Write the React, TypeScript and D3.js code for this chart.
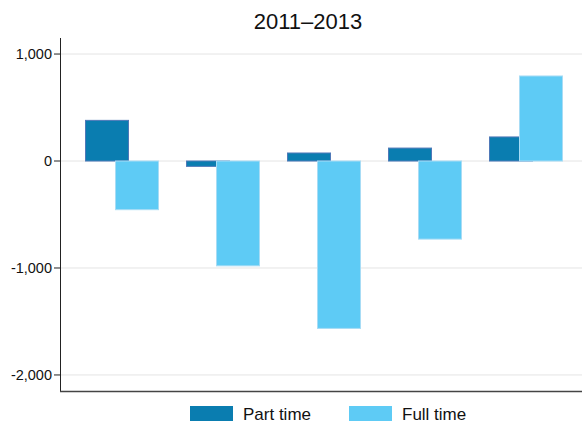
import React from "react";
import * as d3 from "d3";

const categories = ["A", "B", "C", "D", "E"];
const partTime = [380, -50, 75, 121, 225];
const fullTime = [-455, -980, -1565, -730, 795];
const yTicks = [1000, 0, -1000, -2000];
const seriesNames = ["Part time", "Full time"];
const title = "2011–2013";

const W = 582;
const H = 424;
const plotLeft = 60;
const plotRight = 582;
const plotTop = 38;
const plotBottom = 391;

export default function App() {
  const y = d3.scaleLinear().domain([-2150, 1150]).range([plotBottom, plotTop]);
  const x = d3.scaleBand<string>().domain(categories).range([71, 576]).padding(0);
  const barW = 43;
  const offset = 30;
  const fmt = (v: number) => d3.format(",")(v).replace("\u2212", "-");
  const colors = ["#0a7db0", "#5ecbf5"];
  const strokes = ["#4f79b8", "#a8dcf5"];

  const bar = (cat: string, v: number, s: number) => {
    const c = (x(cat) as number) + x.bandwidth() / 2;
    const x0 = c - (barW + offset) / 2 + s * offset;
    const y0 = Math.min(y(v), y(0));
    const h = Math.abs(y(v) - y(0));
    return (
      <rect
        key={cat + s}
        x={x0 + 0.5}
        y={y0}
        width={barW}
        height={h}
        fill={colors[s]}
        stroke={strokes[s]}
        strokeWidth={1}
      />
    );
  };

  return (
    <svg
      width={W}
      height={H}
      style={{ position: "absolute", left: 0, top: 0, background: "#fff" }}
      fontFamily="'Liberation Sans', Arial, sans-serif"
    >
      <text x={308} y={29} textAnchor="middle" fontSize={22} fill="#111">
        {title}
      </text>
      {yTicks.map((t) => (
        <g key={t}>
          <line x1={plotLeft} x2={plotRight} y1={y(t)} y2={y(t)} stroke="#e4e4e4" strokeWidth={1} />
          <line x1={54} x2={plotLeft} y1={y(t)} y2={y(t)} stroke="#222" strokeWidth={1} />
          <text x={52} y={y(t)} dy="0.35em" textAnchor="end" fontSize={14.5} fill="#111">
            {fmt(t)}
          </text>
        </g>
      ))}
      {categories.map((c, i) => bar(c, partTime[i], 0))}
      {categories.map((c, i) => bar(c, fullTime[i], 1))}
      <line x1={plotLeft + 0.5} x2={plotLeft + 0.5} y1={plotTop} y2={plotBottom} stroke="#222" strokeWidth={1} />
      <line x1={plotLeft} x2={plotRight} y1={plotBottom + 0.5} y2={plotBottom + 0.5} stroke="#444" strokeWidth={1.5} />
      {seriesNames.map((n, i) => {
        const sx = [190, 349][i];
        return (
          <g key={n}>
            <rect x={sx} y={406} width={43} height={15} fill={colors[i]} />
            <text x={sx + 53} y={420} fontSize={17} fill="#111">
              {n}
            </text>
          </g>
        );
      })}
    </svg>
  );
}
